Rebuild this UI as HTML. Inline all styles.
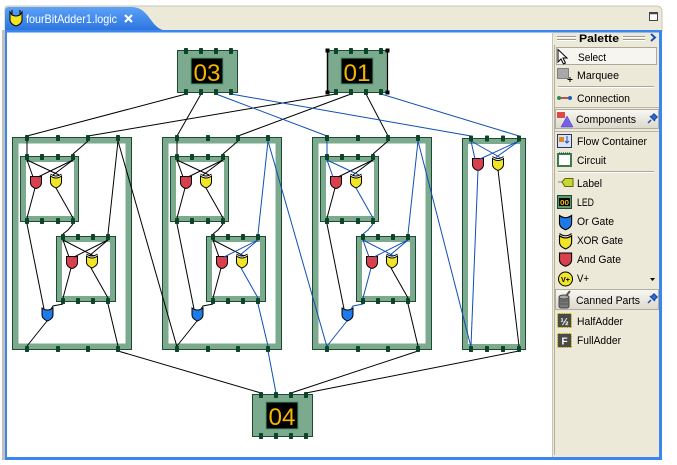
<!DOCTYPE html>
<html><head><meta charset="utf-8"><style>
html,body{margin:0;padding:0;background:#fff;width:677px;height:465px;overflow:hidden}
svg{display:block}
text{font-family:"Liberation Sans",sans-serif}
</style></head><body>
<svg width="677" height="465" viewBox="0 0 677 465" xmlns="http://www.w3.org/2000/svg" xmlns:xlink="http://www.w3.org/1999/xlink">
<defs>
<linearGradient id="tabg" x1="0" y1="0" x2="0" y2="1"><stop offset="0" stop-color="#5CA2F7"/><stop offset="1" stop-color="#2B73DF"/></linearGradient>
<linearGradient id="hdr" x1="0" y1="0" x2="0" y2="1"><stop offset="0" stop-color="#F8F7F2"/><stop offset="1" stop-color="#DCD9CC"/></linearGradient>
<g id="andg"><path d="M0,0H11V6C11,9.5 8,11.5 5.5,12C3,11.5 0,9.5 0,6Z" fill="#D9404E" stroke="#000" stroke-width="1"/></g>
<g id="xorg"><path d="M0,2.5Q5.5,6.5 11,2.5V8.5C11,11.5 8,13.5 5.5,14.5C3,13.5 0,11.5 0,8.5Z" fill="#F1E527" stroke="#000" stroke-width="1"/><path d="M0,0.5Q5.5,4.5 11,0.5" fill="none" stroke="#000" stroke-width="1"/></g>
<g id="org"><path d="M0,0Q5.5,4 11,0V7C11,10 8,12 5.5,13C3,12 0,10 0,7Z" fill="#1E7AE6" stroke="#000" stroke-width="1"/></g>
<rect id="pin" x="-2" y="-3" width="4" height="6" rx="0.8" fill="#0B4428"/>
<g id="faframe">
  <rect x="12.5" y="137.5" width="119" height="212" fill="#7BAA8E" stroke="#1D4B31"/>
  <rect x="18.5" y="143.5" width="107" height="200" fill="#fff"/>
  <rect x="20.5" y="156.5" width="58" height="65" fill="#7BAA8E" stroke="#1D4B31"/>
  <rect x="26" y="162" width="48" height="54" fill="#fff"/>
  <rect x="56.5" y="236.5" width="59" height="65" fill="#7BAA8E" stroke="#1D4B31"/>
  <rect x="62" y="242" width="48" height="54" fill="#fff"/>
  <use xlink:href="#andg" x="30.5" y="176.5"/>
  <use xlink:href="#xorg" x="50.5" y="173.5"/>
  <use xlink:href="#andg" x="66.5" y="256.5"/>
  <use xlink:href="#xorg" x="86.5" y="253.5"/>
  <use xlink:href="#org" x="42" y="308"/>
</g>
<g id="fapins">
  <use xlink:href="#pin" x="27" y="138"/><use xlink:href="#pin" x="58" y="138"/><use xlink:href="#pin" x="88" y="138"/><use xlink:href="#pin" x="118" y="138"/>
  <use xlink:href="#pin" x="27" y="349"/><use xlink:href="#pin" x="58" y="349"/><use xlink:href="#pin" x="88" y="349"/><use xlink:href="#pin" x="118" y="349"/>
  <use xlink:href="#pin" x="27" y="157"/><use xlink:href="#pin" x="42" y="157"/><use xlink:href="#pin" x="58" y="157"/><use xlink:href="#pin" x="73" y="157"/>
  <use xlink:href="#pin" x="27" y="221"/><use xlink:href="#pin" x="42" y="221"/><use xlink:href="#pin" x="58" y="221"/><use xlink:href="#pin" x="73" y="221"/>
  <use xlink:href="#pin" x="63" y="237"/><use xlink:href="#pin" x="78" y="237"/><use xlink:href="#pin" x="93" y="237"/><use xlink:href="#pin" x="108" y="237"/>
  <use xlink:href="#pin" x="63" y="301"/><use xlink:href="#pin" x="78" y="301"/><use xlink:href="#pin" x="93" y="301"/><use xlink:href="#pin" x="108" y="301"/>
</g>
</defs>

<!-- window chrome -->
<rect x="0" y="0" width="677" height="465" fill="#fff"/>
<rect x="2" y="30" width="3" height="430" fill="#C4C1B6"/>
<path d="M5,31 L5,9 Q5,6 8,6 L656,6 Q662,6 662,12 L662,31 Z" fill="#ECE9D8" stroke="#C9C5B8" stroke-width="1"/>
<path d="M5,31 L5,11 Q5,7 9,7 L131,7 C139,7 143,10 148,16 C154,24 157,29 166,31 Z" fill="url(#tabg)"/>
<rect x="5" y="30" width="657" height="2.5" fill="#3A86EE"/>
<rect x="5" y="30" width="2" height="430" fill="#3A86EE"/>
<rect x="659" y="30" width="3" height="430" fill="#3A86EE"/>
<rect x="5" y="457" width="657" height="3" fill="#3A86EE"/>
<rect x="7" y="32.5" width="545" height="424.5" fill="#fff"/>

<!-- tab icon -->
<path d="M10,12 L12,15 Q16,17 20,15 L22,12 L22,20 C22,23 19,25 16,26 C13,25 10,23 10,20 Z" fill="#F1E527" stroke="#000" stroke-width="1"/>
<path d="M12,10 L12,15 M20,10 L20,15" stroke="#000" stroke-width="1"/>
<text x="26" y="23" font-size="12" fill="#fff" textLength="91" lengthAdjust="spacingAndGlyphs">fourBitAdder1.logic</text>
<path d="M125,15 L132,22 M132,15 L125,22" stroke="#fff" stroke-width="2.2"/>
<!-- maximize -->
<rect x="649.5" y="12.5" width="8" height="8" fill="#fff" stroke="#444"/>
<line x1="649.5" y1="13.5" x2="657.5" y2="13.5" stroke="#444" stroke-width="1.5"/>

<!-- palette -->
<rect x="552" y="32.5" width="107" height="424.5" fill="#ECE9D8"/>
<line x1="552.5" y1="32" x2="552.5" y2="457" stroke="#C8C4B6"/>
<line x1="554.5" y1="45" x2="554.5" y2="455" stroke="#B4B0A2"/>
<line x1="557" y1="36.5" x2="576" y2="36.5" stroke="#9C9A90"/><line x1="557" y1="37.5" x2="576" y2="37.5" stroke="#fff"/>
<line x1="557" y1="39.5" x2="576" y2="39.5" stroke="#9C9A90"/><line x1="557" y1="40.5" x2="576" y2="40.5" stroke="#fff"/>
<line x1="623" y1="36.5" x2="645" y2="36.5" stroke="#9C9A90"/><line x1="623" y1="37.5" x2="645" y2="37.5" stroke="#fff"/>
<line x1="623" y1="39.5" x2="645" y2="39.5" stroke="#9C9A90"/><line x1="623" y1="40.5" x2="645" y2="40.5" stroke="#fff"/>
<text x="579" y="42" font-size="11" font-weight="bold" fill="#000" textLength="40" lengthAdjust="spacingAndGlyphs">Palette</text>
<path d="M651,34 L655,37.5 L651,41" fill="none" stroke="#1D4FB0" stroke-width="2"/>

<rect x="556.5" y="47.5" width="100" height="17" fill="#F6F5F0" stroke="#ABA99C"/>
<path d="M558,49.5 L558,62 L561,59 L563.5,64 L565.5,63 L563,58 L567,58 Z" fill="#fff" stroke="#000" stroke-width="1"/>
<text x="578" y="61" font-size="11" textLength="28" lengthAdjust="spacingAndGlyphs">Select</text>

<rect x="557.5" y="68.5" width="11" height="10" fill="#A8A8A8" stroke="#333" stroke-dasharray="1,1"/>
<path d="M570,77 v5 M567.5,79.5 h5" stroke="#000"/>
<text x="577" y="79" font-size="11" textLength="42" lengthAdjust="spacingAndGlyphs">Marquee</text>

<line x1="558" y1="86.5" x2="654" y2="86.5" stroke="#ACA899"/><line x1="558" y1="87.5" x2="654" y2="87.5" stroke="#fff"/>

<line x1="559" y1="98" x2="570" y2="98" stroke="#B02020" stroke-width="1.5"/>
<circle cx="559" cy="98" r="2" fill="#2E8B57"/><circle cx="570" cy="98" r="2" fill="#2060C0"/>
<text x="577" y="102" font-size="11" textLength="53" lengthAdjust="spacingAndGlyphs">Connection</text>

<line x1="555" y1="107.5" x2="659" y2="107.5" stroke="#B8B5A8"/>
<rect x="555.5" y="109.5" width="103" height="19" fill="url(#hdr)" stroke="#B0AE9F"/>
<rect x="557" y="112" width="8" height="6" fill="#E04848"/>
<polygon points="561,127 567,116 573,127" fill="#7462E6" stroke="#4A3CB0" stroke-width="0.5"/>
<text x="576" y="123" font-size="11" textLength="60" lengthAdjust="spacingAndGlyphs">Components</text>
<path d="M648,123 L651,120 M650,116 L655,121 M651,117 L654,114 L657,117 L654,120" stroke="#1D4FB0" stroke-width="1.5" fill="#3A6FD0"/>
<line x1="555" y1="131.5" x2="659" y2="131.5" stroke="#B8B5A8"/>

<rect x="557.5" y="134.5" width="14" height="13" fill="#D8E2F4" stroke="#2A3560"/>
<rect x="559" y="137" width="5" height="5" fill="#E08820"/>
<path d="M567,136 v7 M565,141 l2,2 l2,-2" stroke="#2050C0" fill="none"/>
<text x="577" y="145" font-size="11" textLength="70" lengthAdjust="spacingAndGlyphs">Flow Container</text>

<rect x="558" y="154" width="13" height="12" fill="#fff" stroke="#3C7A52" stroke-width="2"/>
<path d="M559,153 h11" stroke="#0B4428" stroke-dasharray="1,1"/>
<text x="577" y="164" font-size="11" textLength="29" lengthAdjust="spacingAndGlyphs">Circuit</text>

<line x1="558" y1="171.5" x2="654" y2="171.5" stroke="#ACA899"/><line x1="558" y1="172.5" x2="654" y2="172.5" stroke="#fff"/>

<path d="M558,182 L563,182" stroke="#888"/>
<polygon points="562,182 565,178.5 573,178.5 573,186.5 565,186.5" fill="#C8D830" stroke="#5A6A10"/>
<text x="577" y="187" font-size="11" textLength="25" lengthAdjust="spacingAndGlyphs">Label</text>

<rect x="557.5" y="195.5" width="14" height="13" fill="#5E9A74" stroke="#1D4B31"/>
<rect x="559" y="198" width="11" height="8" fill="#000"/>
<text x="564.5" y="205" font-size="7" font-weight="bold" fill="#F0C020" text-anchor="middle" textLength="9" lengthAdjust="spacingAndGlyphs">00</text>
<text x="577" y="206" font-size="11" textLength="17" lengthAdjust="spacingAndGlyphs">LED</text>

<g transform="translate(559.5,215.5) scale(1.1)"><path d="M0,0Q5.5,4 11,0V7C11,10 8,12 5.5,13C3,12 0,10 0,7Z" fill="#1E7AE6" stroke="#000"/></g>
<text x="577" y="225" font-size="11" textLength="37" lengthAdjust="spacingAndGlyphs">Or Gate</text>

<g transform="translate(559.5,233) scale(1.1)"><path d="M0,2.5Q5.5,6.5 11,2.5V8.5C11,11.5 8,13.5 5.5,14.5C3,13.5 0,11.5 0,8.5Z" fill="#F1E527" stroke="#000"/><path d="M0,0.5Q5.5,4.5 11,0.5" fill="none" stroke="#000"/></g>
<text x="577" y="244" font-size="11" textLength="46" lengthAdjust="spacingAndGlyphs">XOR Gate</text>

<g transform="translate(559.5,253) scale(1.1)"><path d="M0,0H11V6C11,9.5 8,11.5 5.5,12C3,11.5 0,9.5 0,6Z" fill="#D9404E" stroke="#000"/></g>
<text x="577" y="263" font-size="11" textLength="44" lengthAdjust="spacingAndGlyphs">And Gate</text>

<circle cx="565.5" cy="279" r="7" fill="#F1E527" stroke="#000"/>
<text x="565.5" y="282" font-size="7" font-weight="bold" text-anchor="middle" textLength="9" lengthAdjust="spacingAndGlyphs">V+</text>
<text x="577" y="282" font-size="11" textLength="12" lengthAdjust="spacingAndGlyphs">V+</text>
<polygon points="650,278 655,278 652.5,281" fill="#000"/>

<rect x="555.5" y="289.5" width="103" height="20" fill="url(#hdr)" stroke="#B0AE9F"/>
<rect x="559" y="297" width="10" height="11" rx="2" fill="#7A7A7A" stroke="#444"/>
<ellipse cx="564" cy="297" rx="5" ry="2" fill="#AAA" stroke="#444"/>
<path d="M566,296 L570,291" stroke="#555" stroke-width="2"/>
<path d="M560,301 h8 M560,304 h8" stroke="#555"/>
<text x="576" y="304" font-size="11" textLength="64" lengthAdjust="spacingAndGlyphs">Canned Parts</text>
<path d="M648,303 L651,300 M650,296 L655,301 M651,297 L654,294 L657,297 L654,300" stroke="#1D4FB0" stroke-width="1.5" fill="#3A6FD0"/>

<rect x="557.5" y="313.5" width="14" height="14" fill="#4A4A4A" stroke="#E8D820" stroke-dasharray="1.5,1"/>
<text x="564.5" y="325" font-size="10" font-weight="bold" fill="#fff" text-anchor="middle">½</text>
<text x="577" y="325" font-size="11" textLength="46" lengthAdjust="spacingAndGlyphs">HalfAdder</text>

<rect x="557.5" y="333.5" width="14" height="14" fill="#4A4A4A" stroke="#E8D820" stroke-dasharray="1.5,1"/>
<text x="564.5" y="344.5" font-size="10" font-weight="bold" fill="#fff" text-anchor="middle">F</text>
<text x="577" y="344" font-size="11" textLength="44" lengthAdjust="spacingAndGlyphs">FullAdder</text>

<!-- Diagram: full adder frames -->
<use xlink:href="#faframe"/>
<use xlink:href="#faframe" x="150"/>
<use xlink:href="#faframe" x="300"/>

<!-- FA4 (half adder) -->
<rect x="462.5" y="138.5" width="63" height="211" fill="#7BAA8E" stroke="#1D4B31"/>
<rect x="468" y="144" width="52" height="200" fill="#fff"/>
<use xlink:href="#andg" x="472.5" y="158.5"/>
<use xlink:href="#xorg" x="492.5" y="156"/>

<!-- LEDs -->
<rect x="177.5" y="50.5" width="60" height="42" fill="#7BAA8E" stroke="#1D4B31"/>
<rect x="191" y="58" width="32" height="26" fill="#000" stroke="#4E9C6E"/>
<text x="207" y="81" font-size="24" fill="#F5B400" text-anchor="middle" textLength="27" lengthAdjust="spacingAndGlyphs">03</text>

<rect x="327.5" y="50.5" width="60" height="42" fill="#7BAA8E" stroke="#1D4B31"/>
<rect x="341" y="58" width="32" height="26" fill="#000" stroke="#4E9C6E"/>
<text x="357" y="81" font-size="24" fill="#F5B400" text-anchor="middle" textLength="27" lengthAdjust="spacingAndGlyphs">01</text>

<rect x="252.5" y="394.5" width="60" height="42" fill="#7BAA8E" stroke="#1D4B31"/>
<rect x="266" y="402" width="32" height="27" fill="#000" stroke="#4E9C6E"/>
<text x="282" y="425" font-size="24" fill="#F5B400" text-anchor="middle" textLength="27" lengthAdjust="spacingAndGlyphs">04</text>

<!-- wires -->
<g fill="none" stroke-width="1">
<!-- FA1 internal (all black) -->
<g stroke="#000">
<line x1="27" y1="141" x2="27" y2="154"/>
<line x1="88" y1="141" x2="73" y2="154"/>
<line x1="27" y1="160" x2="33" y2="177"/>
<line x1="27" y1="160" x2="59" y2="175"/>
<line x1="73" y1="160" x2="38" y2="177"/>
<line x1="73" y1="160" x2="53" y2="175"/>
<line x1="35" y1="188" x2="27" y2="218"/>
<line x1="56" y1="188" x2="73" y2="218"/>
<polyline points="73,224 68,230 63,234"/>
<line x1="118" y1="141" x2="108" y2="234"/>
<line x1="63" y1="240" x2="69" y2="257"/>
<line x1="63" y1="240" x2="94" y2="256"/>
<line x1="108" y1="240" x2="74" y2="257"/>
<line x1="108" y1="240" x2="89" y2="256"/>
<line x1="71" y1="268" x2="63" y2="298"/>
<line x1="91" y1="268" x2="108" y2="298"/>
<line x1="27" y1="224" x2="44" y2="309"/>
<polyline points="63,304 53,306 51,309"/>
<line x1="47" y1="321" x2="27" y2="346"/>
<line x1="108" y1="304" x2="118" y2="346"/>
</g>
<!-- FA2 internal -->
<g transform="translate(150,0)">
<g stroke="#000">
<line x1="27" y1="141" x2="27" y2="154"/>
<line x1="88" y1="141" x2="73" y2="154"/>
<line x1="27" y1="160" x2="33" y2="177"/>
<line x1="27" y1="160" x2="59" y2="175"/>
<line x1="73" y1="160" x2="38" y2="177"/>
<line x1="73" y1="160" x2="53" y2="175"/>
<line x1="35" y1="188" x2="27" y2="218"/>
<line x1="56" y1="188" x2="73" y2="218"/>
<polyline points="73,224 68,230 63,234"/>
<line x1="63" y1="240" x2="69" y2="257"/>
<line x1="63" y1="240" x2="94" y2="256"/>
<line x1="71" y1="268" x2="63" y2="298"/>
<line x1="27" y1="224" x2="44" y2="309"/>
<polyline points="63,304 53,306 51,309"/>
<line x1="47" y1="321" x2="27" y2="346"/>
</g>
<g stroke="#0E4FB5">
<line x1="118" y1="141" x2="108" y2="234"/>
<line x1="108" y1="240" x2="74" y2="257"/>
<line x1="108" y1="240" x2="89" y2="256"/>
<line x1="91" y1="268" x2="108" y2="298"/>
<line x1="108" y1="304" x2="118" y2="346"/>
</g>
</g>
<!-- FA3 internal -->
<g transform="translate(300,0)">
<g stroke="#000">
<line x1="88" y1="141" x2="73" y2="154"/>
<line x1="73" y1="160" x2="38" y2="177"/>
<line x1="73" y1="160" x2="53" y2="175"/>
<line x1="35" y1="188" x2="27" y2="218"/>
<line x1="91" y1="268" x2="108" y2="298"/>
<line x1="27" y1="224" x2="44" y2="309"/>
<line x1="108" y1="304" x2="118" y2="346"/>
</g>
<g stroke="#0E4FB5">
<line x1="27" y1="141" x2="27" y2="154"/>
<line x1="27" y1="160" x2="33" y2="177"/>
<line x1="27" y1="160" x2="59" y2="175"/>
<line x1="56" y1="188" x2="73" y2="218"/>
<polyline points="73,224 68,230 63,234"/>
<line x1="118" y1="141" x2="108" y2="234"/>
<line x1="63" y1="240" x2="69" y2="257"/>
<line x1="63" y1="240" x2="94" y2="256"/>
<line x1="108" y1="240" x2="74" y2="257"/>
<line x1="108" y1="240" x2="89" y2="256"/>
<line x1="71" y1="268" x2="63" y2="298"/>
<polyline points="63,304 53,306 51,309"/>
<line x1="47" y1="321" x2="27" y2="346"/>
</g>
</g>
<!-- FA4 internal -->
<g stroke="#0E4FB5">
<line x1="471" y1="141" x2="475" y2="159"/>
<line x1="471" y1="141" x2="501" y2="158"/>
<line x1="519" y1="141" x2="480" y2="159"/>
<line x1="519" y1="141" x2="495" y2="158"/>
<line x1="478" y1="170" x2="471" y2="346"/>
</g>
<line x1="498" y1="170" x2="519" y2="346" stroke="#000"/>

<!-- external -->
<g stroke="#000">
<line x1="186" y1="94" x2="27" y2="136"/>
<line x1="201" y1="94" x2="177" y2="136"/>
<line x1="336" y1="94" x2="88" y2="136"/>
<line x1="351" y1="94" x2="238" y2="136"/>
<line x1="366" y1="94" x2="388" y2="136"/>
<line x1="118" y1="141" x2="177" y2="347"/>
<line x1="118" y1="351" x2="261" y2="393"/>
<line x1="418" y1="351" x2="291" y2="393"/>
<line x1="519" y1="351" x2="306" y2="393"/>
</g>
<g stroke="#0E4FB5">
<line x1="216" y1="94" x2="327" y2="136"/>
<line x1="231" y1="94" x2="471" y2="136"/>
<line x1="381" y1="94" x2="519" y2="136"/>
<line x1="268" y1="141" x2="327" y2="347"/>
<line x1="418" y1="141" x2="471" y2="347"/>
<line x1="268" y1="351" x2="276" y2="393"/>
</g>
</g>

<!-- pins -->
<use xlink:href="#fapins"/>
<use xlink:href="#fapins" x="150"/>
<use xlink:href="#fapins" x="300"/>
<g>
<use xlink:href="#pin" x="471" y="138.5"/><use xlink:href="#pin" x="487" y="138.5"/><use xlink:href="#pin" x="503" y="138.5"/><use xlink:href="#pin" x="519" y="138.5"/>
<use xlink:href="#pin" x="471" y="349"/><use xlink:href="#pin" x="487" y="349"/><use xlink:href="#pin" x="503" y="349"/><use xlink:href="#pin" x="519" y="349"/>
<use xlink:href="#pin" x="186" y="51"/><use xlink:href="#pin" x="201" y="51"/><use xlink:href="#pin" x="216" y="51"/><use xlink:href="#pin" x="231" y="51"/>
<use xlink:href="#pin" x="186" y="92"/><use xlink:href="#pin" x="201" y="92"/><use xlink:href="#pin" x="216" y="92"/><use xlink:href="#pin" x="231" y="92"/>
<use xlink:href="#pin" x="336" y="51"/><use xlink:href="#pin" x="351" y="51"/><use xlink:href="#pin" x="366" y="51"/><use xlink:href="#pin" x="381" y="51"/>
<use xlink:href="#pin" x="336" y="92"/><use xlink:href="#pin" x="351" y="92"/><use xlink:href="#pin" x="366" y="92"/><use xlink:href="#pin" x="381" y="92"/>
<use xlink:href="#pin" x="261" y="395"/><use xlink:href="#pin" x="276" y="395"/><use xlink:href="#pin" x="291" y="395"/><use xlink:href="#pin" x="306" y="395"/>
<use xlink:href="#pin" x="261" y="436"/><use xlink:href="#pin" x="276" y="436"/><use xlink:href="#pin" x="291" y="436"/><use xlink:href="#pin" x="306" y="436"/>
</g>

<!-- selection on LED 01 -->
<line x1="327.5" y1="50" x2="327.5" y2="93" stroke="#000" stroke-width="1.5"/>
<line x1="387.5" y1="50" x2="387.5" y2="93" stroke="#000" stroke-width="1.2"/>
<rect x="325.5" y="48.5" width="4" height="4" fill="#000"/>
<rect x="385.5" y="48.5" width="4" height="4" fill="#000"/>
<rect x="325.5" y="90.5" width="4" height="4" fill="#000"/>
<rect x="385.5" y="90.5" width="4" height="4" fill="#000"/>
</svg>
</body></html>
